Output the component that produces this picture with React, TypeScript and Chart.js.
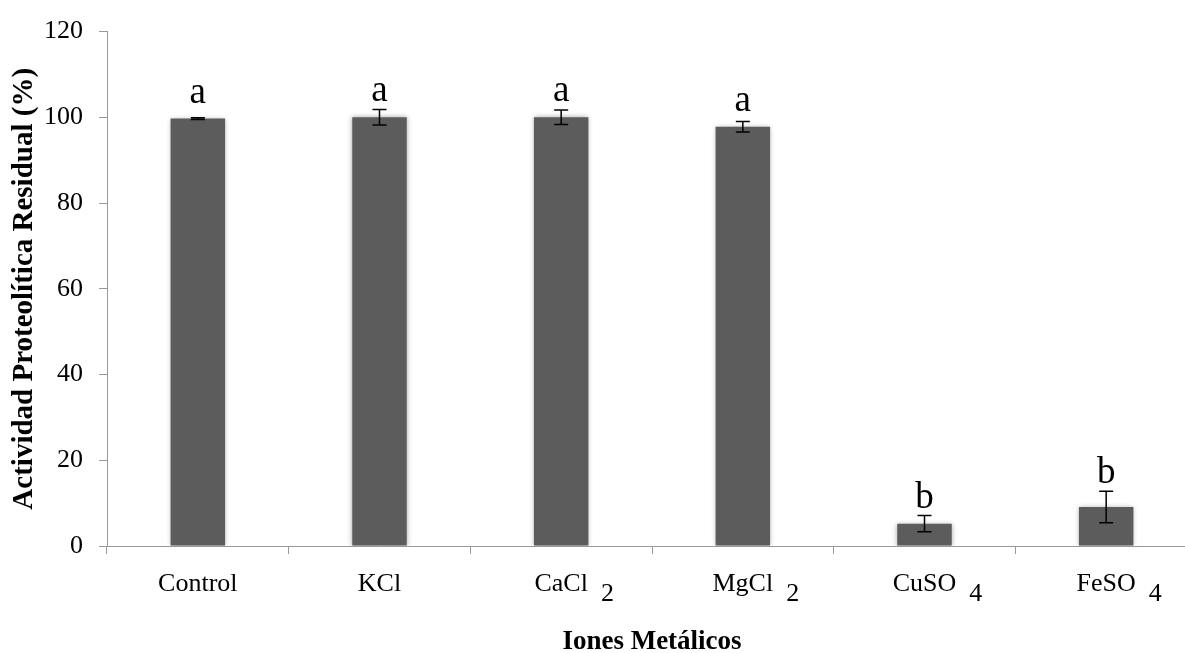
import React, { useEffect, useRef } from "react";
import { Chart, registerables } from "chart.js";

Chart.register(...registerables);

const categories = ["Control", "KCl", "CaCl", "MgCl", "CuSO", "FeSO"];
const subscripts = ["", "", "2", "2", "4", "4"];
const values = [99.7, 100.0, 100.0, 97.8, 5.2, 9.1];
const errors = [0.2, 1.8, 1.7, 1.2, 1.9, 3.7];
const letters = ["a", "a", "a", "a", "b", "b"];
const yTitle = "Actividad Proteolítica Residual (%)";
const xTitle = "Iones Metálicos";

const SERIF = '"Liberation Serif", "Times New Roman", serif';

export default function App() {
  const ref = useRef<HTMLCanvasElement | null>(null);

  useEffect(() => {
    if (!ref.current) return;
    const shadowPlugin = {
      id: "barShadow",
      beforeDatasetsDraw(chart: any) {
        const ctx = chart.ctx;
        ctx.save();
        ctx.shadowColor = "rgba(0,0,0,0.35)";
        ctx.shadowBlur = 5;
        ctx.shadowOffsetX = 0;
        ctx.shadowOffsetY = 0;
      },
      afterDatasetsDraw(chart: any) {
        const ctx = chart.ctx;
        ctx.restore();
        const meta = chart.getDatasetMeta(0);
        const y = chart.scales.y;
        ctx.save();
        ctx.strokeStyle = "#000";
        ctx.lineWidth = 1.5;
        meta.data.forEach((bar: any, i: number) => {
          const top = y.getPixelForValue(values[i] + errors[i]);
          const bot = y.getPixelForValue(values[i] - errors[i]);
          const barTop = y.getPixelForValue(values[i]);
          const x = bar.x;
          ctx.beginPath();
          ctx.moveTo(x, top);
          ctx.lineTo(x, bot);
          ctx.moveTo(x - 7, top);
          ctx.lineTo(x + 7, top);
          ctx.moveTo(x - 7, bot);
          ctx.lineTo(x + 7, bot);
          ctx.stroke();
          ctx.fillStyle = "#000";
          ctx.font = `37px ${SERIF}`;
          ctx.textAlign = "center";
          ctx.textBaseline = "alphabetic";
          ctx.fillText(letters[i], x, Math.min(top - 8, barTop - 16));
        });
        ctx.restore();
      },
      afterDraw(chart: any) {
        const ctx = chart.ctx;
        const xs = chart.scales.x;
        ctx.save();
        ctx.fillStyle = "#000";
        ctx.font = `26px ${SERIF}`;
        ctx.textBaseline = "alphabetic";
        categories.forEach((c, i) => {
          const cx = xs.getPixelForValue(i);
          const w = ctx.measureText(c).width;
          ctx.textAlign = "center";
          ctx.fillText(c, cx, 591);
          if (subscripts[i]) {
            ctx.textAlign = "left";
            ctx.fillText(subscripts[i], cx + w / 2 + 13, 601);
          }
        });
        ctx.restore();
      },
    };

    const chart = new Chart(ref.current, {
      type: "bar",
      data: {
        labels: categories.map((c, i) => c + subscripts[i]),
        datasets: [
          {
            data: values,
            backgroundColor: "#5c5c5c",
            borderWidth: 0,
            barPercentage: 0.3,
            categoryPercentage: 1,
          },
        ],
      },
      options: {
        responsive: false,
        animation: false,
        layout: { padding: { top: 23, right: 3, left: 0, bottom: 0 } },
        plugins: {
          legend: { display: false },
          tooltip: { enabled: false },
        },
        scales: {
          x: {
            afterFit(scale: any) {
              scale.height = 107;
            },
            grid: {
              display: true,
              offset: true,
              drawOnChartArea: false,
              tickLength: 8,
              color: "#999",
            },
            border: { color: "#999", width: 1 },
            ticks: { display: false },
            title: {
              display: true,
              text: xTitle,
              color: "#000",
              font: { family: SERIF, size: 27, weight: "bold", lineHeight: 0.8 },
              padding: 0,
            },
          },
          y: {
            min: 0,
            max: 120,
            afterFit(scale: any) {
              scale.width = 107;
            },
            grid: {
              display: true,
              drawOnChartArea: false,
              tickLength: 8,
              color: "#999",
            },
            border: { color: "#999", width: 1 },
            ticks: {
              stepSize: 20,
              color: "#000",
              padding: 16,
              font: { family: SERIF, size: 26 },
            },
            title: {
              display: true,
              text: yTitle,
              color: "#000",
              font: { family: SERIF, size: 29, weight: "bold", lineHeight: 1 },
              padding: { top: 10, bottom: 0 },
            },
          },
        },
      },
      plugins: [shadowPlugin],
    });
    return () => chart.destroy();
  }, []);

  return (
    <div
      style={{
        position: "fixed",
        left: 0,
        top: 0,
        width: 1185,
        height: 653,
        overflow: "hidden",
        background: "#fff",
      }}
    >
      <canvas ref={ref} width={1200} height={653} style={{ display: "block" }} />
    </div>
  );
}
